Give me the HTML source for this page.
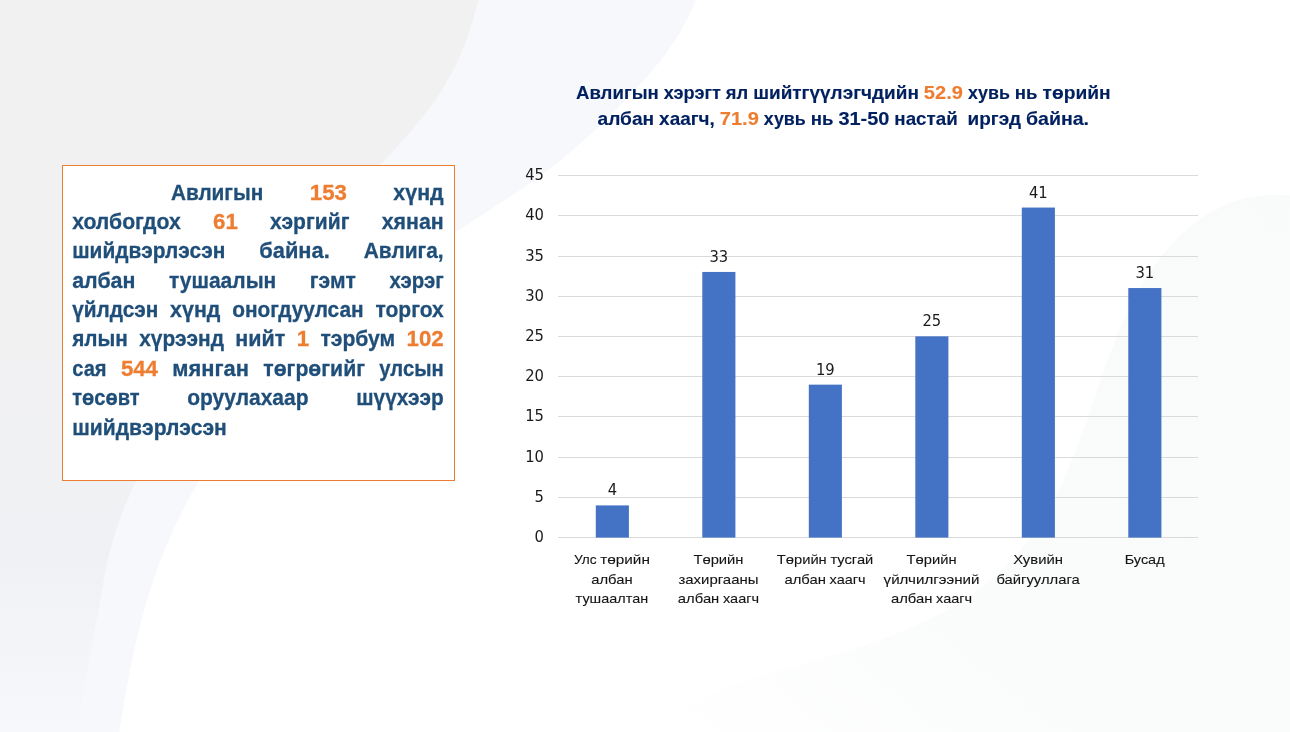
<!DOCTYPE html>
<html lang="mn">
<head>
<meta charset="utf-8">
<title>Авлигын хэрэг</title>
<style>
html,body{margin:0;padding:0;background:#fff;}
body{width:1290px;height:732px;position:relative;overflow:hidden;font-family:"Liberation Sans",sans-serif;}
svg{position:absolute;left:0;top:0;display:block;}
.bg{z-index:0}
.box{position:absolute;left:62px;top:165px;width:391px;height:314px;border:1px solid #ed7d31;background:#fff;z-index:1;box-sizing:content-box}
.fg{z-index:2}
.tb text{font-family:"Liberation Sans",sans-serif;font-weight:700;font-size:22.8px;stroke-width:0.3px;}
.title text{font-family:"Liberation Sans",sans-serif;font-weight:700;font-size:18.6px;stroke-width:0.12px;}
.num text{font-family:"DejaVu Sans",sans-serif;font-size:16.4px;fill:#1a1a1a;}
.cat text{font-family:"Liberation Sans",sans-serif;font-size:13.6px;stroke-width:0.1px;}
.grid line{stroke:#dadada;stroke-width:1;shape-rendering:crispEdges;}
.bars rect{fill:#4472c4;}
</style>
</head>
<body>
<svg class="bg" width="1290" height="732" viewBox="0 0 1290 732">
<defs>
<linearGradient id="gA" x1="0" y1="0" x2="0" y2="1">
<stop offset="0" stop-color="#f1f1f1"/><stop offset="0.45" stop-color="#f1f1f2"/><stop offset="0.76" stop-color="#f0f1f4"/><stop offset="1" stop-color="#f7f8fc"/>
</linearGradient>
<linearGradient id="gC" x1="1" y1="0" x2="0" y2="1">
<stop offset="0" stop-color="#f9fafa"/><stop offset="0.6" stop-color="#fafbfb"/><stop offset="1" stop-color="#ffffff"/>
</linearGradient>
</defs>
<rect width="1290" height="732" fill="#ffffff"/>
<path d="M647.5,733.0 C651.2,730.0 662.2,720.1 669.8,714.8 C677.4,709.5 685.2,705.4 693.2,701.3 C701.2,697.2 709.4,693.7 717.8,690.4 C726.1,687.1 734.7,684.3 743.3,681.5 C751.9,678.7 760.6,676.2 769.3,673.6 C778.0,671.0 786.8,668.6 795.5,666.1 C804.2,663.6 812.9,661.1 821.6,658.5 C830.3,655.9 839.0,653.4 847.6,650.6 C856.2,647.8 864.9,644.9 873.5,641.9 C882.1,638.9 890.6,635.8 899.0,632.4 C907.4,629.0 915.9,625.5 924.1,621.6 C932.3,617.7 940.4,613.6 948.3,609.2 C956.2,604.8 963.9,600.1 971.3,595.0 C978.7,589.9 985.8,584.4 992.6,578.5 C999.4,572.6 1005.8,566.3 1011.9,559.7 C1018.0,553.1 1023.7,546.2 1029.1,539.0 C1034.5,531.8 1039.5,524.3 1044.2,516.6 C1048.9,508.9 1053.2,500.9 1057.3,492.8 C1061.4,484.7 1065.0,476.5 1068.6,468.1 C1072.2,459.7 1075.5,451.1 1078.7,442.5 C1081.9,433.9 1085.0,425.3 1088.0,416.6 C1091.0,407.9 1094.0,399.1 1097.0,390.4 C1100.0,381.7 1103.0,373.0 1106.1,364.4 C1109.2,355.8 1112.4,347.3 1115.8,338.9 C1119.2,330.5 1122.7,322.1 1126.5,314.0 C1130.3,305.9 1134.3,297.9 1138.7,290.2 C1143.1,282.5 1147.8,274.9 1152.9,267.6 C1158.1,260.4 1163.6,253.3 1169.6,246.7 C1175.6,240.1 1182.0,233.6 1188.9,227.9 C1195.8,222.2 1203.1,216.8 1210.8,212.3 C1218.5,207.9 1226.8,204.0 1235.3,201.2 C1243.8,198.4 1252.8,196.6 1262.1,195.6 C1271.4,194.6 1286.2,195.4 1291.0,195.4 L1290,732 Z" fill="url(#gC)"/>
<path d="M696.1,0.0 C693.6,5.1 687.0,20.3 681.0,30.5 C675.0,40.7 668.0,50.8 660.1,61.0 C652.2,71.2 642.9,81.3 633.5,91.5 C624.1,101.7 614.3,111.8 603.7,122.0 C593.1,132.2 582.1,142.3 569.9,152.5 C557.7,162.7 544.7,172.8 530.4,183.0 C516.1,193.2 499.8,203.3 484.3,213.5 C468.8,223.7 452.2,233.8 437.2,244.0 C422.1,254.2 407.7,264.3 394.0,274.5 C380.3,284.7 367.3,294.8 354.9,305.0 C342.5,315.2 330.8,325.3 319.7,335.5 C308.6,345.7 298.1,355.8 288.2,366.0 C278.3,376.2 268.9,386.3 260.1,396.5 C251.3,406.7 243.1,416.8 235.3,427.0 C227.6,437.2 220.3,447.3 213.6,457.5 C206.8,467.7 200.6,477.8 194.8,488.0 C189.0,498.2 183.7,508.3 178.7,518.5 C173.7,528.7 169.2,538.8 165.0,549.0 C160.8,559.2 157.1,569.3 153.6,579.5 C150.1,589.7 147.1,599.8 144.2,610.0 C141.3,620.2 138.8,630.3 136.4,640.5 C134.0,650.7 131.9,660.8 129.9,671.0 C127.9,681.2 126.1,691.3 124.3,701.5 C122.5,711.7 120.1,726.9 119.3,732.0 L0,732 L0,0 Z" fill="#f7f8fc"/>
<path d="M478.5,0.0 C477.0,5.1 473.1,20.3 469.6,30.5 C466.1,40.7 462.4,50.8 457.7,61.0 C452.9,71.2 447.6,81.3 441.1,91.5 C434.6,101.7 426.8,111.8 418.6,122.0 C410.4,132.2 400.9,142.3 391.7,152.5 C382.5,162.7 372.9,172.8 363.5,183.0 C354.1,193.2 344.8,203.3 335.5,213.5 C326.2,223.7 317.0,233.8 307.9,244.0 C298.8,254.2 289.9,264.3 281.1,274.5 C272.3,284.7 263.6,294.8 255.1,305.0 C246.6,315.2 238.3,325.3 230.3,335.5 C222.3,345.7 214.5,355.8 207.0,366.0 C199.5,376.2 192.2,386.3 185.3,396.5 C178.4,406.7 171.7,416.8 165.5,427.0 C159.3,437.2 153.4,447.3 147.9,457.5 C142.4,467.7 137.3,477.8 132.7,488.0 C128.1,498.2 123.9,508.3 120.2,518.5 C116.5,528.7 113.2,538.8 110.5,549.0 C107.8,559.2 105.9,569.3 103.9,579.5 C101.9,589.7 100.5,599.8 98.6,610.0 C96.7,620.2 94.7,630.3 92.7,640.5 C90.8,650.7 88.7,660.8 86.9,671.0 C85.2,681.2 83.4,691.3 82.2,701.5 C81.0,711.7 80.2,726.9 79.8,732.0 L0,732 L0,0 Z" fill="url(#gA)"/>
</svg>
<div class="box"></div>
<svg class="fg" width="1290" height="732" viewBox="0 0 1290 732">
<g class="tb">
<text x="170.90" y="199.55" textLength="92.41" lengthAdjust="spacingAndGlyphs" fill="#1f4e79" stroke="#1f4e79">Авлигын</text>
<text x="309.79" y="199.55" textLength="37.09" lengthAdjust="spacingAndGlyphs" fill="#ed7d31" stroke="#ed7d31">153</text>
<text x="393.37" y="199.55" textLength="50.33" lengthAdjust="spacingAndGlyphs" fill="#1f4e79" stroke="#1f4e79">хүнд</text>
<text x="72.20" y="228.89" textLength="108.56" lengthAdjust="spacingAndGlyphs" fill="#1f4e79" stroke="#1f4e79">холбогдох</text>
<text x="213.02" y="228.89" textLength="24.73" lengthAdjust="spacingAndGlyphs" fill="#ed7d31" stroke="#ed7d31">61</text>
<text x="270.02" y="228.89" textLength="79.41" lengthAdjust="spacingAndGlyphs" fill="#1f4e79" stroke="#1f4e79">хэргийг</text>
<text x="381.68" y="228.89" textLength="62.02" lengthAdjust="spacingAndGlyphs" fill="#1f4e79" stroke="#1f4e79">хянан</text>
<text x="72.20" y="258.23" textLength="153.11" lengthAdjust="spacingAndGlyphs" fill="#1f4e79" stroke="#1f4e79">шийдвэрлэсэн</text>
<text x="259.29" y="258.23" textLength="70.47" lengthAdjust="spacingAndGlyphs" fill="#1f4e79" stroke="#1f4e79">байна.</text>
<text x="363.73" y="258.23" textLength="79.97" lengthAdjust="spacingAndGlyphs" fill="#1f4e79" stroke="#1f4e79">Авлига,</text>
<text x="72.20" y="287.57" textLength="63.20" lengthAdjust="spacingAndGlyphs" fill="#1f4e79" stroke="#1f4e79">албан</text>
<text x="168.99" y="287.57" textLength="107.25" lengthAdjust="spacingAndGlyphs" fill="#1f4e79" stroke="#1f4e79">тушаалын</text>
<text x="309.82" y="287.57" textLength="46.03" lengthAdjust="spacingAndGlyphs" fill="#1f4e79" stroke="#1f4e79">гэмт</text>
<text x="389.43" y="287.57" textLength="54.27" lengthAdjust="spacingAndGlyphs" fill="#1f4e79" stroke="#1f4e79">хэрэг</text>
<text x="72.20" y="316.91" textLength="86.16" lengthAdjust="spacingAndGlyphs" fill="#1f4e79" stroke="#1f4e79">үйлдсэн</text>
<text x="170.12" y="316.91" textLength="50.33" lengthAdjust="spacingAndGlyphs" fill="#1f4e79" stroke="#1f4e79">хүнд</text>
<text x="232.22" y="316.91" textLength="131.45" lengthAdjust="spacingAndGlyphs" fill="#1f4e79" stroke="#1f4e79">оногдуулсан</text>
<text x="375.43" y="316.91" textLength="68.27" lengthAdjust="spacingAndGlyphs" fill="#1f4e79" stroke="#1f4e79">торгох</text>
<text x="72.20" y="346.25" textLength="55.66" lengthAdjust="spacingAndGlyphs" fill="#1f4e79" stroke="#1f4e79">ялын</text>
<text x="139.23" y="346.25" textLength="84.73" lengthAdjust="spacingAndGlyphs" fill="#1f4e79" stroke="#1f4e79">хүрээнд</text>
<text x="235.34" y="346.25" textLength="49.97" lengthAdjust="spacingAndGlyphs" fill="#1f4e79" stroke="#1f4e79">нийт</text>
<text x="296.68" y="346.25" textLength="12.38" lengthAdjust="spacingAndGlyphs" fill="#ed7d31" stroke="#ed7d31">1</text>
<text x="320.43" y="346.25" textLength="74.80" lengthAdjust="spacingAndGlyphs" fill="#1f4e79" stroke="#1f4e79">тэрбум</text>
<text x="406.61" y="346.25" textLength="37.09" lengthAdjust="spacingAndGlyphs" fill="#ed7d31" stroke="#ed7d31">102</text>
<text x="72.20" y="375.59" textLength="34.41" lengthAdjust="spacingAndGlyphs" fill="#1f4e79" stroke="#1f4e79">сая</text>
<text x="120.89" y="375.59" textLength="37.09" lengthAdjust="spacingAndGlyphs" fill="#ed7d31" stroke="#ed7d31">544</text>
<text x="172.27" y="375.59" textLength="76.73" lengthAdjust="spacingAndGlyphs" fill="#1f4e79" stroke="#1f4e79">мянган</text>
<text x="263.29" y="375.59" textLength="101.72" lengthAdjust="spacingAndGlyphs" fill="#1f4e79" stroke="#1f4e79">төгрөгийг</text>
<text x="379.29" y="375.59" textLength="64.41" lengthAdjust="spacingAndGlyphs" fill="#1f4e79" stroke="#1f4e79">улсын</text>
<text x="72.20" y="404.93" textLength="67.31" lengthAdjust="spacingAndGlyphs" fill="#1f4e79" stroke="#1f4e79">төсөвт</text>
<text x="187.20" y="404.93" textLength="121.36" lengthAdjust="spacingAndGlyphs" fill="#1f4e79" stroke="#1f4e79">оруулахаар</text>
<text x="356.25" y="404.93" textLength="87.45" lengthAdjust="spacingAndGlyphs" fill="#1f4e79" stroke="#1f4e79">шүүхээр</text>
<text x="72.20" y="435.27" textLength="154.64" lengthAdjust="spacingAndGlyphs" fill="#1f4e79" stroke="#1f4e79">шийдвэрлэсэн</text>
</g>
<g class="title">
<text x="575.98" y="98.90" textLength="82.83" lengthAdjust="spacingAndGlyphs" fill="#002060" stroke="#002060">Авлигын</text>
<text x="663.75" y="98.90" textLength="57.16" lengthAdjust="spacingAndGlyphs" fill="#002060" stroke="#002060">хэрэгт</text>
<text x="725.84" y="98.90" textLength="22.39" lengthAdjust="spacingAndGlyphs" fill="#002060" stroke="#002060">ял</text>
<text x="753.15" y="98.90" textLength="165.78" lengthAdjust="spacingAndGlyphs" fill="#002060" stroke="#002060">шийтгүүлэгчдийн</text>
<text x="923.89" y="98.90" textLength="39.08" lengthAdjust="spacingAndGlyphs" fill="#ed7d31" stroke="#ed7d31">52.9</text>
<text x="967.90" y="98.90" textLength="42.03" lengthAdjust="spacingAndGlyphs" fill="#002060" stroke="#002060">хувь</text>
<text x="1014.85" y="98.90" textLength="22.75" lengthAdjust="spacingAndGlyphs" fill="#002060" stroke="#002060">нь</text>
<text x="1042.54" y="98.90" textLength="68.08" lengthAdjust="spacingAndGlyphs" fill="#002060" stroke="#002060">төрийн</text>
<text x="597.55" y="124.60" textLength="56.64" lengthAdjust="spacingAndGlyphs" fill="#002060" stroke="#002060">албан</text>
<text x="659.13" y="124.60" textLength="55.69" lengthAdjust="spacingAndGlyphs" fill="#002060" stroke="#002060">хаагч,</text>
<text x="719.75" y="124.60" textLength="39.08" lengthAdjust="spacingAndGlyphs" fill="#ed7d31" stroke="#ed7d31">71.9</text>
<text x="763.78" y="124.60" textLength="42.03" lengthAdjust="spacingAndGlyphs" fill="#002060" stroke="#002060">хувь</text>
<text x="810.74" y="124.60" textLength="22.75" lengthAdjust="spacingAndGlyphs" fill="#002060" stroke="#002060">нь</text>
<text x="838.41" y="124.60" textLength="51.02" lengthAdjust="spacingAndGlyphs" fill="#002060" stroke="#002060">31-50</text>
<text x="894.36" y="124.60" textLength="63.34" lengthAdjust="spacingAndGlyphs" fill="#002060" stroke="#002060">настай</text>
<text x="967.58" y="124.60" textLength="53.39" lengthAdjust="spacingAndGlyphs" fill="#002060" stroke="#002060">иргэд</text>
<text x="1025.91" y="124.60" textLength="63.16" lengthAdjust="spacingAndGlyphs" fill="#002060" stroke="#002060">байна.</text>
</g>
<g class="grid">
<line x1="558.4" x2="1198.2" y1="537.50" y2="537.50"/>
<line x1="558.4" x2="1198.2" y1="497.50" y2="497.50"/>
<line x1="558.4" x2="1198.2" y1="457.50" y2="457.50"/>
<line x1="558.4" x2="1198.2" y1="416.50" y2="416.50"/>
<line x1="558.4" x2="1198.2" y1="376.50" y2="376.50"/>
<line x1="558.4" x2="1198.2" y1="336.50" y2="336.50"/>
<line x1="558.4" x2="1198.2" y1="296.50" y2="296.50"/>
<line x1="558.4" x2="1198.2" y1="256.50" y2="256.50"/>
<line x1="558.4" x2="1198.2" y1="215.50" y2="215.50"/>
<line x1="558.4" x2="1198.2" y1="175.50" y2="175.50"/>
</g>
<g class="bars">
<rect x="595.8" y="505.40" width="33.1" height="32.20"/>
<rect x="702.3" y="271.95" width="33.1" height="265.65"/>
<rect x="808.8" y="384.65" width="33.1" height="152.95"/>
<rect x="915.3" y="336.35" width="33.1" height="201.25"/>
<rect x="1021.8" y="207.55" width="33.1" height="330.05"/>
<rect x="1128.3" y="288.05" width="33.1" height="249.55"/>
</g>
<g class="num">
<text x="534.60" y="541.80" textLength="9.40" lengthAdjust="spacingAndGlyphs">0</text>
<text x="534.60" y="501.80" textLength="9.40" lengthAdjust="spacingAndGlyphs">5</text>
<text x="525.20" y="461.80" textLength="18.80" lengthAdjust="spacingAndGlyphs">10</text>
<text x="525.20" y="420.80" textLength="18.80" lengthAdjust="spacingAndGlyphs">15</text>
<text x="525.20" y="380.80" textLength="18.80" lengthAdjust="spacingAndGlyphs">20</text>
<text x="525.20" y="340.80" textLength="18.80" lengthAdjust="spacingAndGlyphs">25</text>
<text x="525.20" y="300.80" textLength="18.80" lengthAdjust="spacingAndGlyphs">30</text>
<text x="525.20" y="260.80" textLength="18.80" lengthAdjust="spacingAndGlyphs">35</text>
<text x="525.20" y="219.80" textLength="18.80" lengthAdjust="spacingAndGlyphs">40</text>
<text x="525.20" y="179.80" textLength="18.80" lengthAdjust="spacingAndGlyphs">45</text>
<text x="607.65" y="495.40" textLength="9.40" lengthAdjust="spacingAndGlyphs">4</text>
<text x="709.45" y="261.95" textLength="18.80" lengthAdjust="spacingAndGlyphs">33</text>
<text x="815.95" y="374.65" textLength="18.80" lengthAdjust="spacingAndGlyphs">19</text>
<text x="922.45" y="326.35" textLength="18.80" lengthAdjust="spacingAndGlyphs">25</text>
<text x="1028.95" y="197.55" textLength="18.80" lengthAdjust="spacingAndGlyphs">41</text>
<text x="1135.45" y="278.05" textLength="18.80" lengthAdjust="spacingAndGlyphs">31</text>
</g>
<g class="cat">
<text x="573.92" y="563.90" textLength="22.56" lengthAdjust="spacingAndGlyphs" fill="#141414" stroke="#141414">Улс</text>
<text x="600.17" y="563.90" textLength="49.70" lengthAdjust="spacingAndGlyphs" fill="#141414" stroke="#141414">төрийн</text>
<text x="591.17" y="583.50" textLength="41.45" lengthAdjust="spacingAndGlyphs" fill="#141414" stroke="#141414">албан</text>
<text x="575.63" y="603.10" textLength="72.53" lengthAdjust="spacingAndGlyphs" fill="#141414" stroke="#141414">тушаалтан</text>
<text x="693.43" y="563.90" textLength="50.05" lengthAdjust="spacingAndGlyphs" fill="#141414" stroke="#141414">Төрийн</text>
<text x="678.42" y="583.50" textLength="80.06" lengthAdjust="spacingAndGlyphs" fill="#141414" stroke="#141414">захиргааны</text>
<text x="677.86" y="603.10" textLength="41.45" lengthAdjust="spacingAndGlyphs" fill="#141414" stroke="#141414">албан</text>
<text x="723.00" y="603.10" textLength="36.06" lengthAdjust="spacingAndGlyphs" fill="#141414" stroke="#141414">хаагч</text>
<text x="776.72" y="563.90" textLength="50.05" lengthAdjust="spacingAndGlyphs" fill="#141414" stroke="#141414">Төрийн</text>
<text x="830.45" y="563.90" textLength="42.84" lengthAdjust="spacingAndGlyphs" fill="#141414" stroke="#141414">тусгай</text>
<text x="784.41" y="583.50" textLength="41.45" lengthAdjust="spacingAndGlyphs" fill="#141414" stroke="#141414">албан</text>
<text x="829.55" y="583.50" textLength="36.06" lengthAdjust="spacingAndGlyphs" fill="#141414" stroke="#141414">хаагч</text>
<text x="906.53" y="563.90" textLength="50.05" lengthAdjust="spacingAndGlyphs" fill="#141414" stroke="#141414">Төрийн</text>
<text x="883.58" y="583.50" textLength="95.94" lengthAdjust="spacingAndGlyphs" fill="#141414" stroke="#141414">үйлчилгээний</text>
<text x="890.96" y="603.10" textLength="41.45" lengthAdjust="spacingAndGlyphs" fill="#141414" stroke="#141414">албан</text>
<text x="936.10" y="603.10" textLength="36.06" lengthAdjust="spacingAndGlyphs" fill="#141414" stroke="#141414">хаагч</text>
<text x="1013.24" y="563.90" textLength="49.72" lengthAdjust="spacingAndGlyphs" fill="#141414" stroke="#141414">Хувийн</text>
<text x="996.48" y="583.50" textLength="83.23" lengthAdjust="spacingAndGlyphs" fill="#141414" stroke="#141414">байгууллага</text>
<text x="1124.70" y="563.90" textLength="39.89" lengthAdjust="spacingAndGlyphs" fill="#141414" stroke="#141414">Бусад</text>
</g>
</svg>
</body>
</html>
